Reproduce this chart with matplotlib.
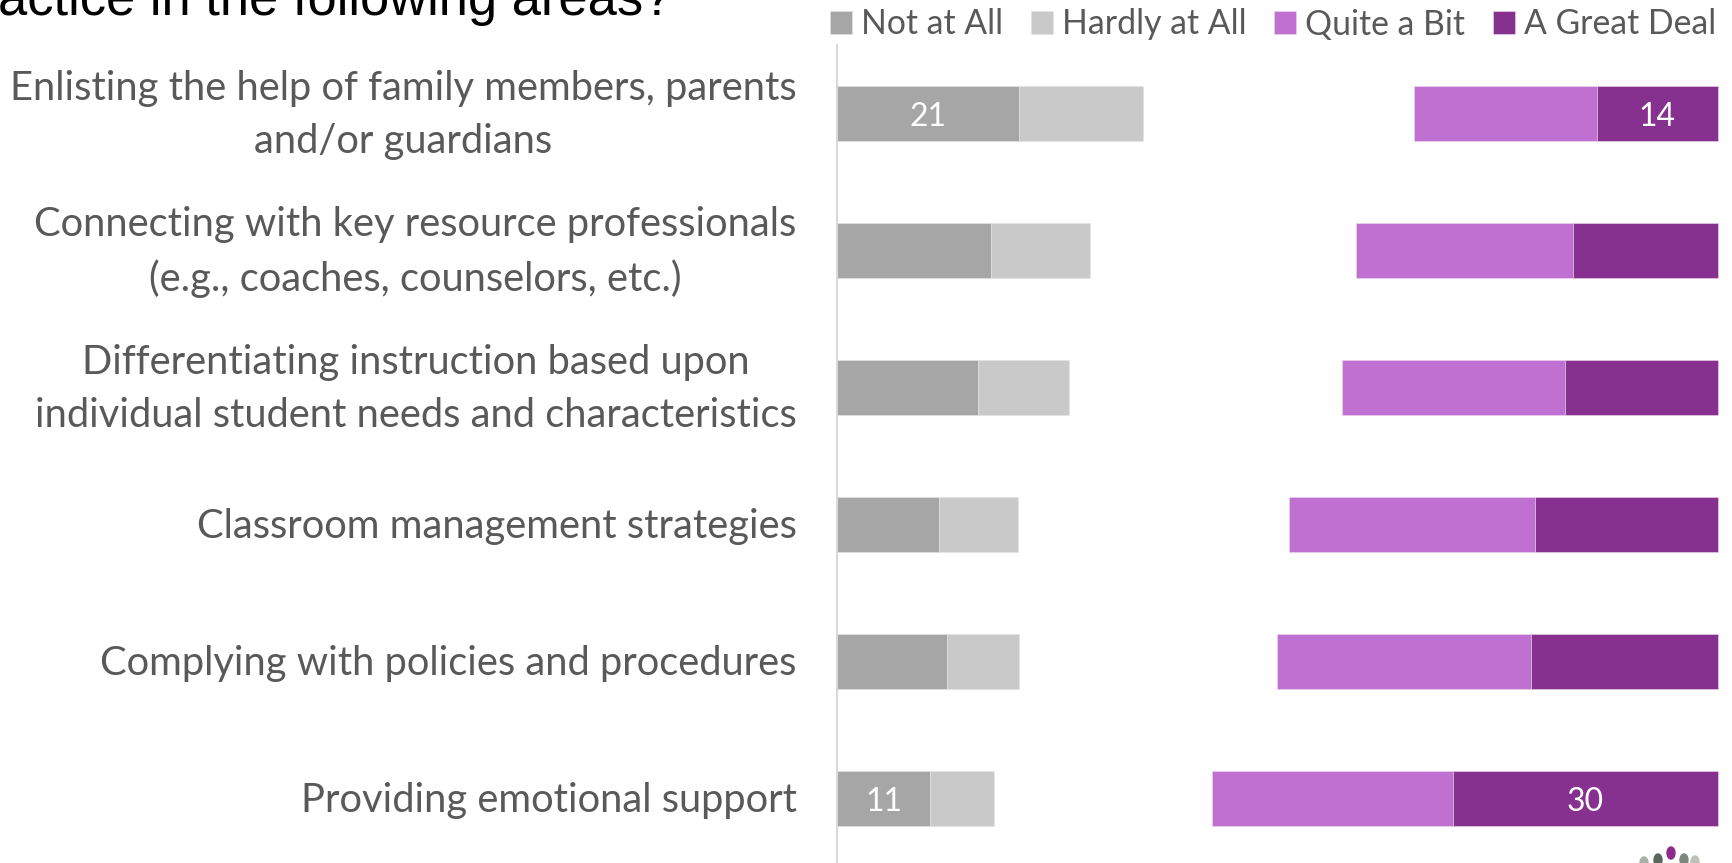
# imports
import matplotlib
matplotlib.use("Agg")
import matplotlib.pyplot as plt
import numpy as np
from matplotlib.patches import Ellipse
from matplotlib.transforms import ScaledTranslation

W, H = 1732, 863

categories = [
    "Enlisting the help of family members, parents\nand/or guardians",
    "Connecting with key resource professionals\n(e.g., coaches, counselors, etc.)",
    "Differentiating instruction based upon\nindividual student needs and characteristics",
    "Classroom management strategies",
    "Complying with policies and procedures",
    "Providing emotional support",
]
not_at_all = [21, 17.7, 16.2, 11.7, 12.7, 10.7]
hardly_at_all = [14.2, 11.5, 10.5, 9.2, 8.3, 7.4]
quite_a_bit = [21.0, 25.0, 25.7, 28.3, 29.3, 27.8]
great_deal = [14, 16.7, 17.6, 21.1, 21.5, 30.5]

# only these rows carry a number in the original
not_at_all_labels = ["21", "", "", "", "", "11"]
great_deal_labels = ["14", "", "", "", "", "30"]

GRAY1, GRAY2 = "#A6A6A6", "#C9C9C9"
PURPLE1, PURPLE2 = "#C070D0", "#86308F"
TEXT = "#595959"
FONT = "Lato"
RIGHT_END = 101.5

plt.rcParams["font.family"] = FONT

fig = plt.figure(figsize=(W / 100, H / 100), dpi=100)
top, band = 45.3, 136.9
ax = fig.add_axes([837 / W, 1 - (top + 6 * band) / H, (W - 837) / W, 6 * band / H])
ax.set_xlim(0, (W - 837) / 8.68)
ax.set_ylim(5.5, -0.5)
ax.patch.set_alpha(0)

y = np.arange(len(categories))
na = np.array(not_at_all)
ha = np.array(hardly_at_all)
qb = np.array(quite_a_bit)
gd = np.array(great_deal)
bar_h = 0.4

b1 = ax.barh(y, na, height=bar_h, color=GRAY1, edgecolor="#E4E4E4", linewidth=0.4, label="Not at All")
b2 = ax.barh(y, ha, left=na, height=bar_h, color=GRAY2, edgecolor="#E4E4E4", linewidth=0.4, label="Hardly at All")
b3 = ax.barh(y, qb, left=RIGHT_END - gd - qb, height=bar_h, color=PURPLE1, edgecolor="#E8D8EC", linewidth=0.4, label="Quite a Bit")
b4 = ax.barh(y, gd, left=RIGHT_END - gd, height=bar_h, color=PURPLE2, edgecolor="#E8D8EC", linewidth=0.4, label="A Great Deal")

for bars, labs in [(b1, not_at_all_labels), (b4, great_deal_labels)]:
    for t in ax.bar_label(bars, labels=labs, label_type="center", color="white", fontsize=23):
        t.xyann = (0, -2.7)

ax.set_yticks(y)
ax.set_yticklabels(categories, fontsize=28.7, color=TEXT, multialignment="center", linespacing=1.52)
ax.tick_params(axis="y", length=0, pad=29)
# two line labels sit higher than the bar centre in the original
for t, cat in zip(ax.get_yticklabels(), categories):
    dy = 10 if "\n" in cat else 1.5
    t.set_transform(t.get_transform() + ScaledTranslation(0, dy / 100, fig.dpi_scale_trans))
ax.set_xticks([])
for s in ["top", "right", "bottom"]:
    ax.spines[s].set_visible(False)
ax.spines["left"].set_color("#D9D9D9")
ax.spines["left"].set_linewidth(1.5)

fig.legend(
    handles=[b1, b2, b3, b4],
    loc="upper right",
    bbox_to_anchor=(1716 / W, 1 - 8.5 / H),
    ncol=4,
    frameon=False,
    fontsize=24.3,
    labelcolor=TEXT,
    handlelength=0.65,
    handleheight=0.65,
    handletextpad=0.27,
    columnspacing=0.82,
    borderpad=0,
    borderaxespad=0,
)

# clipped slide title above the chart
fig.text(-2 / W, 1 - 15 / H, "actice in the following areas?", family="Liberation Sans",
         fontsize=37.8, color="black", ha="left", va="baseline")

# top of the logo, cut by the bottom edge
logo_x = [1644, 1658, 1671, 1684, 1695]
logo_y = [863, 860, 853, 860, 862]
logo_c = ["#A9B0A8", "#5C665C", "#8E2A8E", "#7D867D", "#BCC2BA"]
for lx, ly, lc in zip(logo_x, logo_y, logo_c):
    fig.add_artist(Ellipse((lx / W, 1 - ly / H), 8 / W, 12 / H, color=lc, transform=fig.transFigure))

fig.savefig("out.png", dpi=100)
